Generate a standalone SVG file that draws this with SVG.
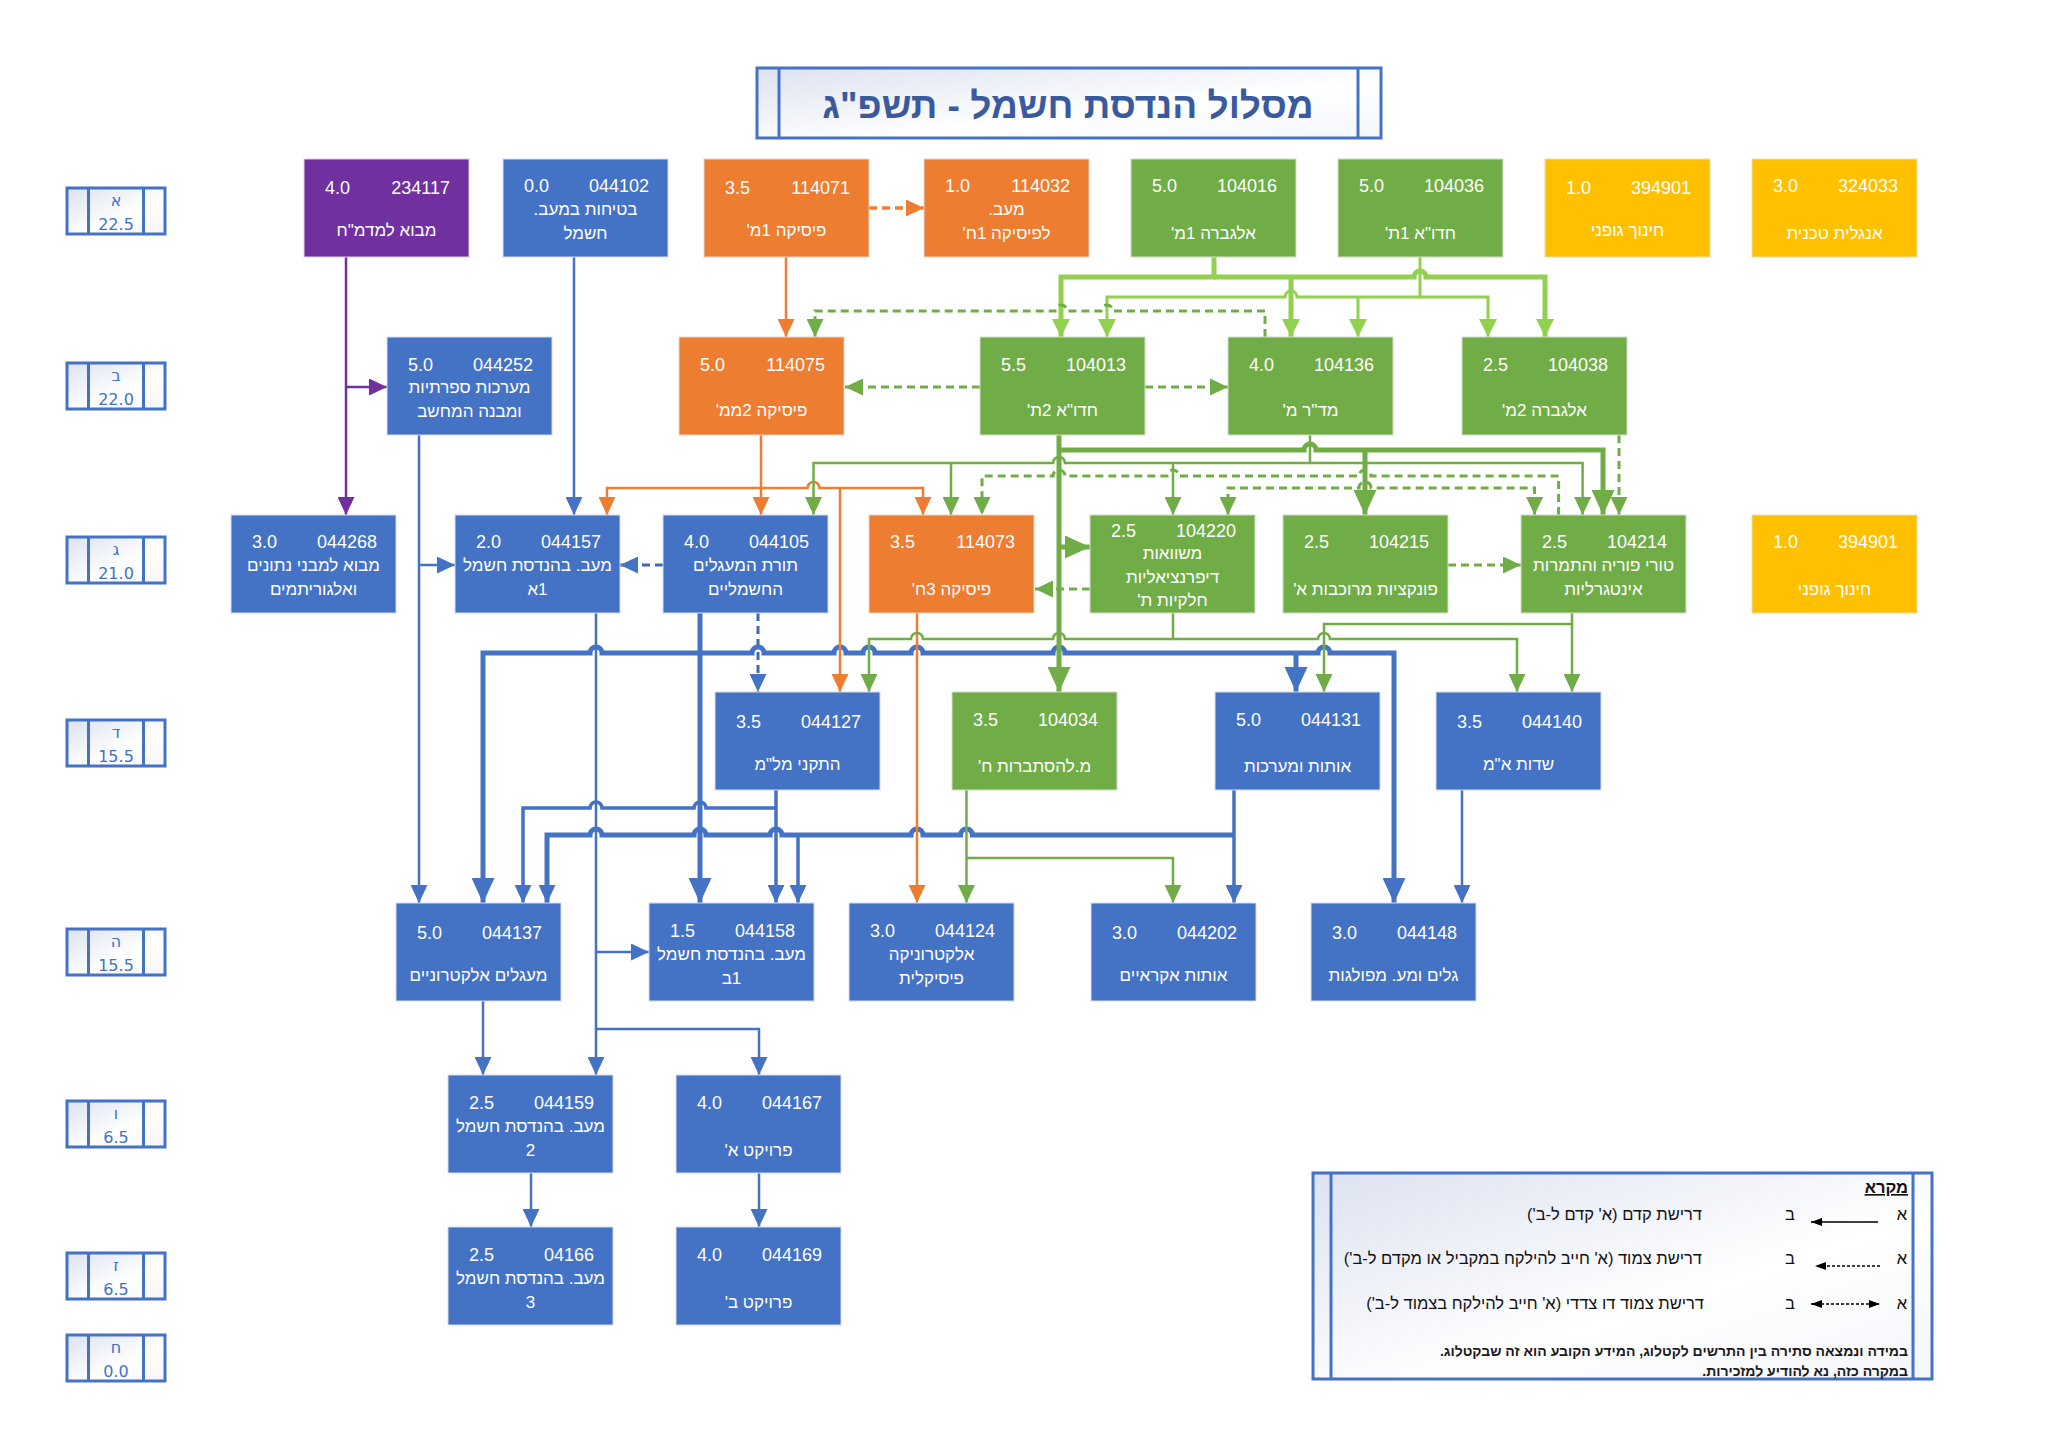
<svg xmlns="http://www.w3.org/2000/svg" width="2048" height="1448" viewBox="0 0 2048 1448">
<defs>
<linearGradient id="gr" x1="0" y1="0" x2="1" y2="1"><stop offset="0" stop-color="#DCE2F0"/><stop offset="0.6" stop-color="#FFFFFF"/><stop offset="1" stop-color="#F4F6FB"/></linearGradient>
<marker id="mb" viewBox="0 0 10 10" refX="10" refY="5" markerWidth="18" markerHeight="17" markerUnits="userSpaceOnUse" orient="auto" preserveAspectRatio="none"><path d="M0,0L10,5L0,10z" fill="#4472C4"/></marker>
<marker id="mbL" viewBox="0 0 10 10" refX="10" refY="5" markerWidth="25" markerHeight="23" markerUnits="userSpaceOnUse" orient="auto" preserveAspectRatio="none"><path d="M0,0L10,5L0,10z" fill="#4472C4"/></marker>
<marker id="mo" viewBox="0 0 10 10" refX="10" refY="5" markerWidth="18" markerHeight="17" markerUnits="userSpaceOnUse" orient="auto" preserveAspectRatio="none"><path d="M0,0L10,5L0,10z" fill="#ED7D31"/></marker>
<marker id="mg" viewBox="0 0 10 10" refX="10" refY="5" markerWidth="18" markerHeight="17" markerUnits="userSpaceOnUse" orient="auto-start-reverse" preserveAspectRatio="none"><path d="M0,0L10,5L0,10z" fill="#70AD47"/></marker>
<marker id="mgL" viewBox="0 0 10 10" refX="10" refY="5" markerWidth="25" markerHeight="23" markerUnits="userSpaceOnUse" orient="auto" preserveAspectRatio="none"><path d="M0,0L10,5L0,10z" fill="#70AD47"/></marker>
<marker id="mlg" viewBox="0 0 10 10" refX="10" refY="5" markerWidth="18" markerHeight="18" markerUnits="userSpaceOnUse" orient="auto" preserveAspectRatio="none"><path d="M0,0L10,5L0,10z" fill="#92D050"/></marker>
<marker id="mp" viewBox="0 0 10 10" refX="10" refY="5" markerWidth="18" markerHeight="17" markerUnits="userSpaceOnUse" orient="auto" preserveAspectRatio="none"><path d="M0,0L10,5L0,10z" fill="#7030A0"/></marker>
<marker id="mk" viewBox="0 0 10 10" refX="10" refY="5" markerWidth="11" markerHeight="8" markerUnits="userSpaceOnUse" orient="auto-start-reverse" preserveAspectRatio="none"><path d="M0,0L10,5L0,10z" fill="#000"/></marker>
</defs>
<style>
.nb{fill:#4472C4;stroke:#D6DCE8;stroke-width:1}
.no{fill:#ED7D31;stroke:#E3D6CC;stroke-width:1}
.ng{fill:#70AD47;stroke:#D3DECB;stroke-width:1}
.ny{fill:#FFC000;stroke:#E8DDB8;stroke-width:1}
.np{fill:#7030A0;stroke:#D9CFE3;stroke-width:1}
.num{font-family:"Liberation Sans",Arial,sans-serif;font-size:18px;fill:#FFFFFF}
.ne{text-anchor:end}
.nm{font-family:"Liberation Sans",Arial,sans-serif;font-size:17px;fill:#FFFFFF;text-anchor:middle;direction:rtl}
.frame{fill:url(#gr);stroke:#4472C4;stroke-width:3}
.div{stroke:#4472C4;stroke-width:3}
.sl{font-family:"DejaVu Sans",sans-serif;font-size:16px;fill:#4472C4;text-anchor:middle}
.lg{font-family:"Liberation Sans",Arial,sans-serif;font-size:16.5px;fill:#111111;direction:rtl;text-anchor:start}
.lgm{font-family:"Liberation Sans",Arial,sans-serif;font-size:16.5px;fill:#111111;text-anchor:middle}
.lgn{font-family:"Liberation Sans",Arial,sans-serif;font-size:14px;font-weight:bold;fill:#1a1a1a;direction:rtl;text-anchor:start}
.cp{stroke:#7030A0;stroke-width:2.5;fill:none}
.cb{stroke:#4472C4;stroke-width:2.5;fill:none}
.cbm{stroke:#4472C4;stroke-width:3.5;fill:none}
.cbt{stroke:#4472C4;stroke-width:5;fill:none}
.cbd{stroke:#3F69B3;stroke-width:3;stroke-dasharray:8 5;fill:none}
.co{stroke:#ED7D31;stroke-width:2.5;fill:none}
.cod{stroke:#ED7D31;stroke-width:3.5;stroke-dasharray:8 5;fill:none}
.cg{stroke:#70AD47;stroke-width:2.5;fill:none}
.cgt{stroke:#70AD47;stroke-width:5;fill:none}
.cgd{stroke:#70AD47;stroke-width:3;stroke-dasharray:8 5;fill:none}
.clg{stroke:#92D050;stroke-width:3;fill:none}
.clgt{stroke:#92D050;stroke-width:5;fill:none}
</style>
<rect x="0" y="0" width="2048" height="1448" fill="#FFFFFF"/>

<g id="title">
<rect x="757" y="68" width="624" height="70" class="frame"/>
<line x1="779" y1="68" x2="779" y2="138" class="div"/>
<line x1="1358" y1="68" x2="1358" y2="138" class="div"/>
<text x="1068" y="118" font-family="Liberation Sans, Arial, sans-serif" font-size="37" font-weight="bold" fill="#3A5A9E" text-anchor="middle" direction="rtl">מסלול הנדסת חשמל - תשפ"ג</text>
</g>

<g id="semesters">
<g id="sem-a"><rect x="67" y="188" width="98" height="46" class="frame"/><line x1="88.5" y1="188" x2="88.5" y2="234" class="div"/><line x1="143.5" y1="188" x2="143.5" y2="234" class="div"/><text x="116" y="206" class="sl">א</text><text x="116" y="230" class="sl">22.5</text></g>
<g id="sem-b"><rect x="67" y="363" width="98" height="46" class="frame"/><line x1="88.5" y1="363" x2="88.5" y2="409" class="div"/><line x1="143.5" y1="363" x2="143.5" y2="409" class="div"/><text x="116" y="381" class="sl">ב</text><text x="116" y="405" class="sl">22.0</text></g>
<g id="sem-c"><rect x="67" y="537" width="98" height="46" class="frame"/><line x1="88.5" y1="537" x2="88.5" y2="583" class="div"/><line x1="143.5" y1="537" x2="143.5" y2="583" class="div"/><text x="116" y="555" class="sl">ג</text><text x="116" y="579" class="sl">21.0</text></g>
<g id="sem-d"><rect x="67" y="720" width="98" height="46" class="frame"/><line x1="88.5" y1="720" x2="88.5" y2="766" class="div"/><line x1="143.5" y1="720" x2="143.5" y2="766" class="div"/><text x="116" y="738" class="sl">ד</text><text x="116" y="762" class="sl">15.5</text></g>
<g id="sem-e"><rect x="67" y="929" width="98" height="46" class="frame"/><line x1="88.5" y1="929" x2="88.5" y2="975" class="div"/><line x1="143.5" y1="929" x2="143.5" y2="975" class="div"/><text x="116" y="947" class="sl">ה</text><text x="116" y="971" class="sl">15.5</text></g>
<g id="sem-f"><rect x="67" y="1101" width="98" height="46" class="frame"/><line x1="88.5" y1="1101" x2="88.5" y2="1147" class="div"/><line x1="143.5" y1="1101" x2="143.5" y2="1147" class="div"/><text x="116" y="1119" class="sl">ו</text><text x="116" y="1143" class="sl">6.5</text></g>
<g id="sem-g"><rect x="67" y="1253" width="98" height="46" class="frame"/><line x1="88.5" y1="1253" x2="88.5" y2="1299" class="div"/><line x1="143.5" y1="1253" x2="143.5" y2="1299" class="div"/><text x="116" y="1271" class="sl">ז</text><text x="116" y="1295" class="sl">6.5</text></g>
<g id="sem-h"><rect x="67" y="1335" width="98" height="46" class="frame"/><line x1="88.5" y1="1335" x2="88.5" y2="1381" class="div"/><line x1="143.5" y1="1335" x2="143.5" y2="1381" class="div"/><text x="116" y="1353" class="sl">ח</text><text x="116" y="1377" class="sl">0.0</text></g>
</g>

<g id="connectors">
<path class="cp" d="M346,257V515" marker-end="url(#mp)"/>
<path class="cp" d="M346,387H387" marker-end="url(#mp)"/>

<path class="cb" d="M574,257V515" marker-end="url(#mb)"/>
<path class="cb" d="M419,435V903" marker-end="url(#mb)"/>
<path class="cb" d="M419,565H455" marker-end="url(#mb)"/>
<path class="cbd" d="M663,565H620" marker-end="url(#mb)"/>
<path class="cbd" d="M758,613V692" marker-end="url(#mb)"/>
<path class="cbt" d="M700,613V903" marker-end="url(#mbL)"/>
<path class="cbt" d="M700,653H602a6,6 0 0 0 -12,0H483V903" marker-end="url(#mbL)"/>
<path class="cbt" d="M700,653H752a6,6 0 0 1 12,0H834a6,6 0 0 1 12,0H863a6,6 0 0 1 12,0H911a6,6 0 0 1 12,0H1053a6,6 0 0 1 12,0H1318a6,6 0 0 1 12,0H1394V903" marker-end="url(#mbL)"/>
<path class="cbt" d="M1296,653V692" marker-end="url(#mbL)"/>
<path class="cb" d="M596,613V1075" marker-end="url(#mb)"/>
<path class="cb" d="M596,952H649" marker-end="url(#mb)"/>
<path class="cb" d="M596,1029H759V1075" marker-end="url(#mb)"/>
<path class="cbm" d="M776,790V903" marker-end="url(#mb)"/>
<path class="cbm" d="M776,808H706a6,6 0 0 0 -12,0H602a6,6 0 0 0 -12,0H523V903" marker-end="url(#mb)"/>
<path class="cbm" d="M1234,790V903" marker-end="url(#mb)"/>
<path class="cbt" d="M1234,835H972.5a6,6 0 0 0 -12,0H923a6,6 0 0 0 -12,0H782a6,6 0 0 0 -12,0H706a6,6 0 0 0 -12,0H602a6,6 0 0 0 -12,0H547V903" marker-end="url(#mb)"/>
<path class="cbm" d="M798,835V903" marker-end="url(#mb)"/>
<path class="cb" d="M1462,790V903" marker-end="url(#mb)"/>
<path class="cb" d="M483,1001V1075" marker-end="url(#mb)"/>
<path class="cb" d="M531,1173V1227" marker-end="url(#mb)"/>
<path class="cb" d="M759,1173V1227" marker-end="url(#mb)"/>

<path class="co" d="M786,257V337" marker-end="url(#mo)"/>
<path class="cod" d="M869,208H924" marker-end="url(#mo)"/>
<path class="co" d="M761,435V515" marker-end="url(#mo)"/>
<path class="co" d="M761,488H607V515" marker-end="url(#mo)"/>
<path class="co" d="M761,488H807.5a6,6 0 0 1 12,0H923V515" marker-end="url(#mo)"/>
<path class="co" d="M840,488V692" marker-end="url(#mo)"/>
<path class="co" d="M917,613V903" marker-end="url(#mo)"/>

<path class="clgt" d="M1214,257V277H1061V337" marker-end="url(#mlg)"/>
<path class="clgt" d="M1214,277H1414a6,6 0 0 1 12,0H1545V337" marker-end="url(#mlg)"/>
<path class="clgt" d="M1291,277V337" marker-end="url(#mlg)"/>
<path class="clg" d="M1420,257V297H1297a6,6 0 0 0 -12,0H1107V337" marker-end="url(#mlg)"/>
<path class="clg" d="M1420,297H1488V337" marker-end="url(#mlg)"/>
<path class="clg" d="M1358,297V337" marker-end="url(#mlg)"/>

<path class="cgd" d="M980,387H845" marker-end="url(#mg)"/>
<path class="cgd" d="M1145,387H1228" marker-end="url(#mg)"/>
<path class="cgd" d="M1265,337V311H1113a6,6 0 0 0 -12,0H1067a6,6 0 0 0 -12,0H815V337" marker-end="url(#mg)"/>

<path class="cgt" d="M1059,435V692" marker-end="url(#mgL)"/>
<path class="cgt" d="M1059,450H1304a6,6 0 0 1 12,0H1603V515" marker-end="url(#mgL)"/>
<path class="cgt" d="M1059,547H1090" marker-end="url(#mgL)"/>
<path class="cgt" d="M1365,450V515" marker-end="url(#mgL)"/>

<path class="cg" d="M1310,435V463H1065a6,6 0 0 0 -12,0H813.5V515" marker-end="url(#mg)"/>
<path class="cg" d="M1310,463H1582.6V515" marker-end="url(#mg)"/>
<path class="cg" d="M951,463V515" marker-end="url(#mg)"/>
<path class="cg" d="M1173,463V515" marker-end="url(#mg)"/>
<path class="cgd" d="M1558.6,515V476H1371a6,6 0 0 0 -12,0H1179a6,6 0 0 0 -12,0H1065a6,6 0 0 0 -12,0H982V515" marker-end="url(#mg)"/>
<path class="cgd" d="M1228,515V488H1359a6,6 0 0 1 12,0H1534.6V515" marker-start="url(#mg)" marker-end="url(#mg)"/>
<path class="cgd" d="M1619,435V515" marker-end="url(#mg)"/>
<path class="cgd" d="M1090,589H1035" marker-end="url(#mg)"/>
<path class="cgd" d="M1448,565H1521" marker-end="url(#mg)"/>

<path class="cg" d="M1173,613V639H1065a6,6 0 0 0 -12,0H923a6,6 0 0 0 -12,0H869V692" marker-end="url(#mg)"/>
<path class="cg" d="M1173,639H1318a6,6 0 0 1 12,0H1517V692" marker-end="url(#mg)"/>
<path class="cg" d="M1572,613V692" marker-end="url(#mg)"/>
<path class="cg" d="M1572,624H1324V692" marker-end="url(#mg)"/>
<path class="cg" d="M966.5,790V903" marker-end="url(#mg)"/>
<path class="cg" d="M966.5,858H1173V903" marker-end="url(#mg)"/>
</g>

<g id="nodes">
<g id="n234117"><rect x="304" y="159" width="165" height="98" class="np"/><text x="325" y="194" class="num">4.0</text><text x="450" y="194" class="num ne">234117</text><text x="386.5" y="236" class="nm">מבוא למדמ"ח</text></g>
<g id="n044102"><rect x="503" y="159" width="165" height="98" class="nb"/><text x="524" y="192" class="num">0.0</text><text x="649" y="192" class="num ne">044102</text><text x="585.5" y="215" class="nm">בטיחות במעב.</text><text x="585.5" y="239" class="nm">חשמל</text></g>
<g id="n114071"><rect x="704" y="159" width="165" height="98" class="no"/><text x="725" y="194" class="num">3.5</text><text x="850" y="194" class="num ne">114071</text><text x="786.5" y="236" class="nm">פיסיקה 1מ'</text></g>
<g id="n114032"><rect x="924" y="159" width="165" height="98" class="no"/><text x="945" y="192" class="num">1.0</text><text x="1070" y="192" class="num ne">114032</text><text x="1006.5" y="215" class="nm">מעב.</text><text x="1006.5" y="239" class="nm">לפיסיקה 1ח'</text></g>
<g id="n104016"><rect x="1131" y="159" width="165" height="98" class="ng"/><text x="1152" y="192" class="num">5.0</text><text x="1277" y="192" class="num ne">104016</text><text x="1213.5" y="239" class="nm">אלגברה 1מ'</text></g>
<g id="n104036"><rect x="1338" y="159" width="165" height="98" class="ng"/><text x="1359" y="192" class="num">5.0</text><text x="1484" y="192" class="num ne">104036</text><text x="1420.5" y="239" class="nm">חדו"א 1ת'</text></g>
<g id="n394901a"><rect x="1545" y="159" width="165" height="98" class="ny"/><text x="1566" y="194" class="num">1.0</text><text x="1691" y="194" class="num ne">394901</text><text x="1627.5" y="236" class="nm">חינוך גופני</text></g>
<g id="n324033"><rect x="1752" y="159" width="165" height="98" class="ny"/><text x="1773" y="192" class="num">3.0</text><text x="1898" y="192" class="num ne">324033</text><text x="1834.5" y="239" class="nm">אנגלית טכנית</text></g>

<g id="n044252"><rect x="387" y="337" width="165" height="98" class="nb"/><text x="408" y="371" class="num">5.0</text><text x="533" y="371" class="num ne">044252</text><text x="469.5" y="393" class="nm">מערכות ספרתיות</text><text x="469.5" y="417" class="nm">ומבנה המחשב</text></g>
<g id="n114075"><rect x="679" y="337" width="165" height="98" class="no"/><text x="700" y="371" class="num">5.0</text><text x="825" y="371" class="num ne">114075</text><text x="761.5" y="416" class="nm">פיסיקה 2ממ'</text></g>
<g id="n104013"><rect x="980" y="337" width="165" height="98" class="ng"/><text x="1001" y="371" class="num">5.5</text><text x="1126" y="371" class="num ne">104013</text><text x="1062.5" y="416" class="nm">חדו"א 2ת'</text></g>
<g id="n104136"><rect x="1228" y="337" width="165" height="98" class="ng"/><text x="1249" y="371" class="num">4.0</text><text x="1374" y="371" class="num ne">104136</text><text x="1310.5" y="416" class="nm">מד"ר מ'</text></g>
<g id="n104038"><rect x="1462" y="337" width="165" height="98" class="ng"/><text x="1483" y="371" class="num">2.5</text><text x="1608" y="371" class="num ne">104038</text><text x="1544.5" y="416" class="nm">אלגברה 2מ'</text></g>

<g id="n044268"><rect x="231" y="515" width="165" height="98" class="nb"/><text x="252" y="548" class="num">3.0</text><text x="377" y="548" class="num ne">044268</text><text x="313.5" y="571" class="nm">מבוא למבני נתונים</text><text x="313.5" y="595" class="nm">ואלגוריתמים</text></g>
<g id="n044157"><rect x="455" y="515" width="165" height="98" class="nb"/><text x="476" y="548" class="num">2.0</text><text x="601" y="548" class="num ne">044157</text><text x="537.5" y="571" class="nm">מעב. בהנדסת חשמל</text><text x="537.5" y="595" class="nm">1א</text></g>
<g id="n044105"><rect x="663" y="515" width="165" height="98" class="nb"/><text x="684" y="548" class="num">4.0</text><text x="809" y="548" class="num ne">044105</text><text x="745.5" y="571" class="nm">תורת המעגלים</text><text x="745.5" y="595" class="nm">החשמליים</text></g>
<g id="n114073"><rect x="869" y="515" width="165" height="98" class="no"/><text x="890" y="548" class="num">3.5</text><text x="1015" y="548" class="num ne">114073</text><text x="951.5" y="595" class="nm">פיסיקה 3ח'</text></g>
<g id="n104220"><rect x="1090" y="515" width="165" height="98" class="ng"/><text x="1111" y="537" class="num">2.5</text><text x="1236" y="537" class="num ne">104220</text><text x="1172.5" y="559" class="nm">משוואות</text><text x="1172.5" y="583" class="nm">דיפרנציאליות</text><text x="1172.5" y="606" class="nm">חלקיות ת'</text></g>
<g id="n104215"><rect x="1283" y="515" width="165" height="98" class="ng"/><text x="1304" y="548" class="num">2.5</text><text x="1429" y="548" class="num ne">104215</text><text x="1365.5" y="595" class="nm">פונקציות מרוכבות א'</text></g>
<g id="n104214"><rect x="1521" y="515" width="165" height="98" class="ng"/><text x="1542" y="548" class="num">2.5</text><text x="1667" y="548" class="num ne">104214</text><text x="1603.5" y="571" class="nm">טורי פוריה והתמרות</text><text x="1603.5" y="595" class="nm">אינטגרליות</text></g>
<g id="n394901b"><rect x="1752" y="515" width="165" height="98" class="ny"/><text x="1773" y="548" class="num">1.0</text><text x="1898" y="548" class="num ne">394901</text><text x="1834.5" y="595" class="nm">חינוך גופני</text></g>

<g id="n044127"><rect x="715" y="692" width="165" height="98" class="nb"/><text x="736" y="728" class="num">3.5</text><text x="861" y="728" class="num ne">044127</text><text x="797.5" y="770" class="nm">התקני מל"מ</text></g>
<g id="n104034"><rect x="952" y="692" width="165" height="98" class="ng"/><text x="973" y="726" class="num">3.5</text><text x="1098" y="726" class="num ne">104034</text><text x="1034.5" y="772" class="nm">מ.להסתברות ח'</text></g>
<g id="n044131"><rect x="1215" y="692" width="165" height="98" class="nb"/><text x="1236" y="726" class="num">5.0</text><text x="1361" y="726" class="num ne">044131</text><text x="1297.5" y="772" class="nm">אותות ומערכות</text></g>
<g id="n044140"><rect x="1436" y="692" width="165" height="98" class="nb"/><text x="1457" y="728" class="num">3.5</text><text x="1582" y="728" class="num ne">044140</text><text x="1518.5" y="770" class="nm">שדות א"מ</text></g>

<g id="n044137"><rect x="396" y="903" width="165" height="98" class="nb"/><text x="417" y="939" class="num">5.0</text><text x="542" y="939" class="num ne">044137</text><text x="478.5" y="981" class="nm">מעגלים אלקטרוניים</text></g>
<g id="n044158"><rect x="649" y="903" width="165" height="98" class="nb"/><text x="670" y="937" class="num">1.5</text><text x="795" y="937" class="num ne">044158</text><text x="731.5" y="960" class="nm">מעב. בהנדסת חשמל</text><text x="731.5" y="984" class="nm">1ב</text></g>
<g id="n044124"><rect x="849" y="903" width="165" height="98" class="nb"/><text x="870" y="937" class="num">3.0</text><text x="995" y="937" class="num ne">044124</text><text x="931.5" y="960" class="nm">אלקטרוניקה</text><text x="931.5" y="984" class="nm">פיסיקלית</text></g>
<g id="n044202"><rect x="1091" y="903" width="165" height="98" class="nb"/><text x="1112" y="939" class="num">3.0</text><text x="1237" y="939" class="num ne">044202</text><text x="1173.5" y="981" class="nm">אותות אקראיים</text></g>
<g id="n044148"><rect x="1311" y="903" width="165" height="98" class="nb"/><text x="1332" y="939" class="num">3.0</text><text x="1457" y="939" class="num ne">044148</text><text x="1393.5" y="981" class="nm">גלים ומע. מפולגות</text></g>

<g id="n044159"><rect x="448" y="1075" width="165" height="98" class="nb"/><text x="469" y="1109" class="num">2.5</text><text x="594" y="1109" class="num ne">044159</text><text x="530.5" y="1132" class="nm">מעב. בהנדסת חשמל</text><text x="530.5" y="1156" class="nm">2</text></g>
<g id="n044167"><rect x="676" y="1075" width="165" height="98" class="nb"/><text x="697" y="1109" class="num">4.0</text><text x="822" y="1109" class="num ne">044167</text><text x="758.5" y="1156" class="nm">פרויקט א'</text></g>
<g id="n04166"><rect x="448" y="1227" width="165" height="98" class="nb"/><text x="469" y="1261" class="num">2.5</text><text x="594" y="1261" class="num ne">04166</text><text x="530.5" y="1284" class="nm">מעב. בהנדסת חשמל</text><text x="530.5" y="1308" class="nm">3</text></g>
<g id="n044169"><rect x="676" y="1227" width="165" height="98" class="nb"/><text x="697" y="1261" class="num">4.0</text><text x="822" y="1261" class="num ne">044169</text><text x="758.5" y="1308" class="nm">פרויקט ב'</text></g>
</g>

<g id="legend">
<rect x="1313" y="1173" width="619" height="206" class="frame"/>
<line x1="1331" y1="1173" x2="1331" y2="1379" class="div"/>
<line x1="1913" y1="1173" x2="1913" y2="1379" class="div"/>
<text x="1908" y="1193" class="lg" font-weight="bold" text-decoration="underline">מקרא</text>
<text x="1902" y="1220" class="lgm">א</text>
<text x="1790" y="1220" class="lgm">ב</text>
<line x1="1878" y1="1222" x2="1811" y2="1222" stroke="#000" stroke-width="1.5" marker-end="url(#mk)"/>
<text x="1702" y="1220" class="lg">דרישת קדם (א' קדם ל-ב')</text>
<text x="1902" y="1264" class="lgm">א</text>
<text x="1790" y="1264" class="lgm">ב</text>
<line x1="1880" y1="1266" x2="1815" y2="1266" stroke="#000" stroke-width="1.5" stroke-dasharray="3 2" marker-end="url(#mk)"/>
<text x="1702" y="1264" class="lg">דרישת צמוד (א' חייב להילקח במקביל או מקדם ל-ב')</text>
<text x="1902" y="1309" class="lgm">א</text>
<text x="1790" y="1309" class="lgm">ב</text>
<line x1="1811" y1="1304" x2="1880" y2="1304" stroke="#000" stroke-width="1.5" stroke-dasharray="3 2" marker-start="url(#mk)" marker-end="url(#mk)"/>
<text x="1704" y="1309" class="lg">דרישת צמוד דו צדדי (א' חייב להילקח בצמוד ל-ב')</text>
<text x="1908" y="1356" class="lgn">במידה ונמצאה סתירה בין התרשים לקטלוג, המידע הקובע הוא זה שבקטלוג.</text>
<text x="1908" y="1376" class="lgn">במקרה כזה, נא להודיע למזכירות.</text>
</g>
</svg>
